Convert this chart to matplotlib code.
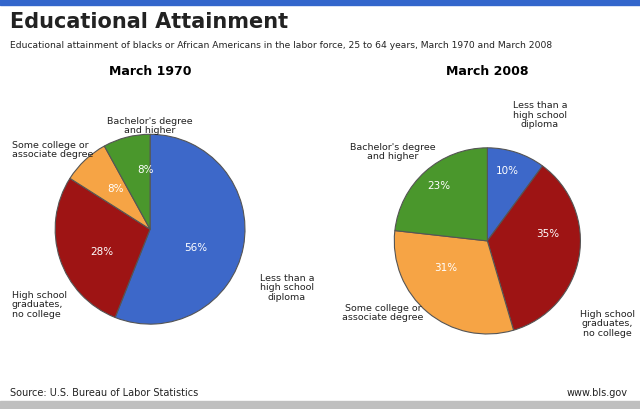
import matplotlib
matplotlib.use("Agg")
import matplotlib.pyplot as plt

categories = ["Less than a\nhigh school\ndiploma", "High school\ngraduates,\nno college",
              "Some college or\nassociate degree", "Bachelor's degree\nand higher"]
values_1970 = [56, 28, 8, 8]
values_2008 = [10, 35, 31, 23]
colors = ["#3d68c9", "#9e1414", "#f6a445", "#4a972c"]

W, H = 640, 410
fig = plt.figure(figsize=(6.4, 4.1), dpi=100)
fig.patch.set_facecolor("white")

def px(x, y):
    return x / W, 1 - y / H

def txt(x, y, s, **kw):
    fig.text(*px(x, y), s, **kw)

fig.add_artist(plt.Rectangle((0, 1 - 6 / H), 1, 6 / H, color="#3366cc", transform=fig.transFigure))
fig.add_artist(plt.Rectangle((0, 0), 1, 8 / H, color="#bfbfbf", transform=fig.transFigure))

txt(10, 22, "Educational Attainment", fontsize=15, fontweight="bold", va="center", color="#222222")
txt(10, 45, "Educational attainment of blacks or African Americans in the labor force, 25 to 64 years, March 1970 and March 2008",
    fontsize=6.6, va="center", color="#222222")
txt(150, 72, "March 1970", fontsize=9, fontweight="bold", ha="center", va="center")
txt(487, 72, "March 2008", fontsize=9, fontweight="bold", ha="center", va="center")

def draw(rect, vals):
    ax = fig.add_axes(rect)
    ax.pie(vals, colors=colors, startangle=90, counterclock=False,
           wedgeprops=dict(linewidth=0.8, edgecolor="#555555"))
    ax.set_xlim(-1.0, 1.0)
    ax.set_ylim(-1.0, 1.0)
    ax.set_aspect("equal")
    ax.axis("off")
    return ax

draw([0.086, 0.207, 0.297, 0.463], values_1970)
draw([0.616, 0.183, 0.291, 0.454], values_2008)

pk = dict(fontsize=7.5, ha="center", va="center", color="white")
txt(196, 248, f"{values_1970[0]}%", **pk)
txt(102, 252, f"{values_1970[1]}%", **pk)
txt(116, 189, f"{values_1970[2]}%", **pk)
txt(146, 170, f"{values_1970[3]}%", **pk)
txt(507, 171, f"{values_2008[0]}%", **pk)
txt(548, 234, f"{values_2008[1]}%", **pk)
txt(446, 268, f"{values_2008[2]}%", **pk)
txt(439, 186, f"{values_2008[3]}%", **pk)

lk = dict(fontsize=6.8, va="center", color="#222222", linespacing=1.1)
txt(287, 288, categories[0], ha="center", **lk)
txt(12, 305, categories[1], ha="left", **lk)
txt(12, 150, categories[2], ha="left", **lk)
txt(150, 126, categories[3], ha="center", **lk)
txt(540, 115, categories[0], ha="center", **lk)
txt(607, 324, categories[1], ha="center", **lk)
txt(383, 313, categories[2], ha="center", **lk)
txt(393, 152, categories[3], ha="center", **lk)

txt(10, 393, "Source: U.S. Bureau of Labor Statistics", fontsize=7, va="center", color="#222222")
txt(628, 393, "www.bls.gov", fontsize=7, ha="right", va="center", color="#222222")

fig.savefig("out.png", dpi=100)
